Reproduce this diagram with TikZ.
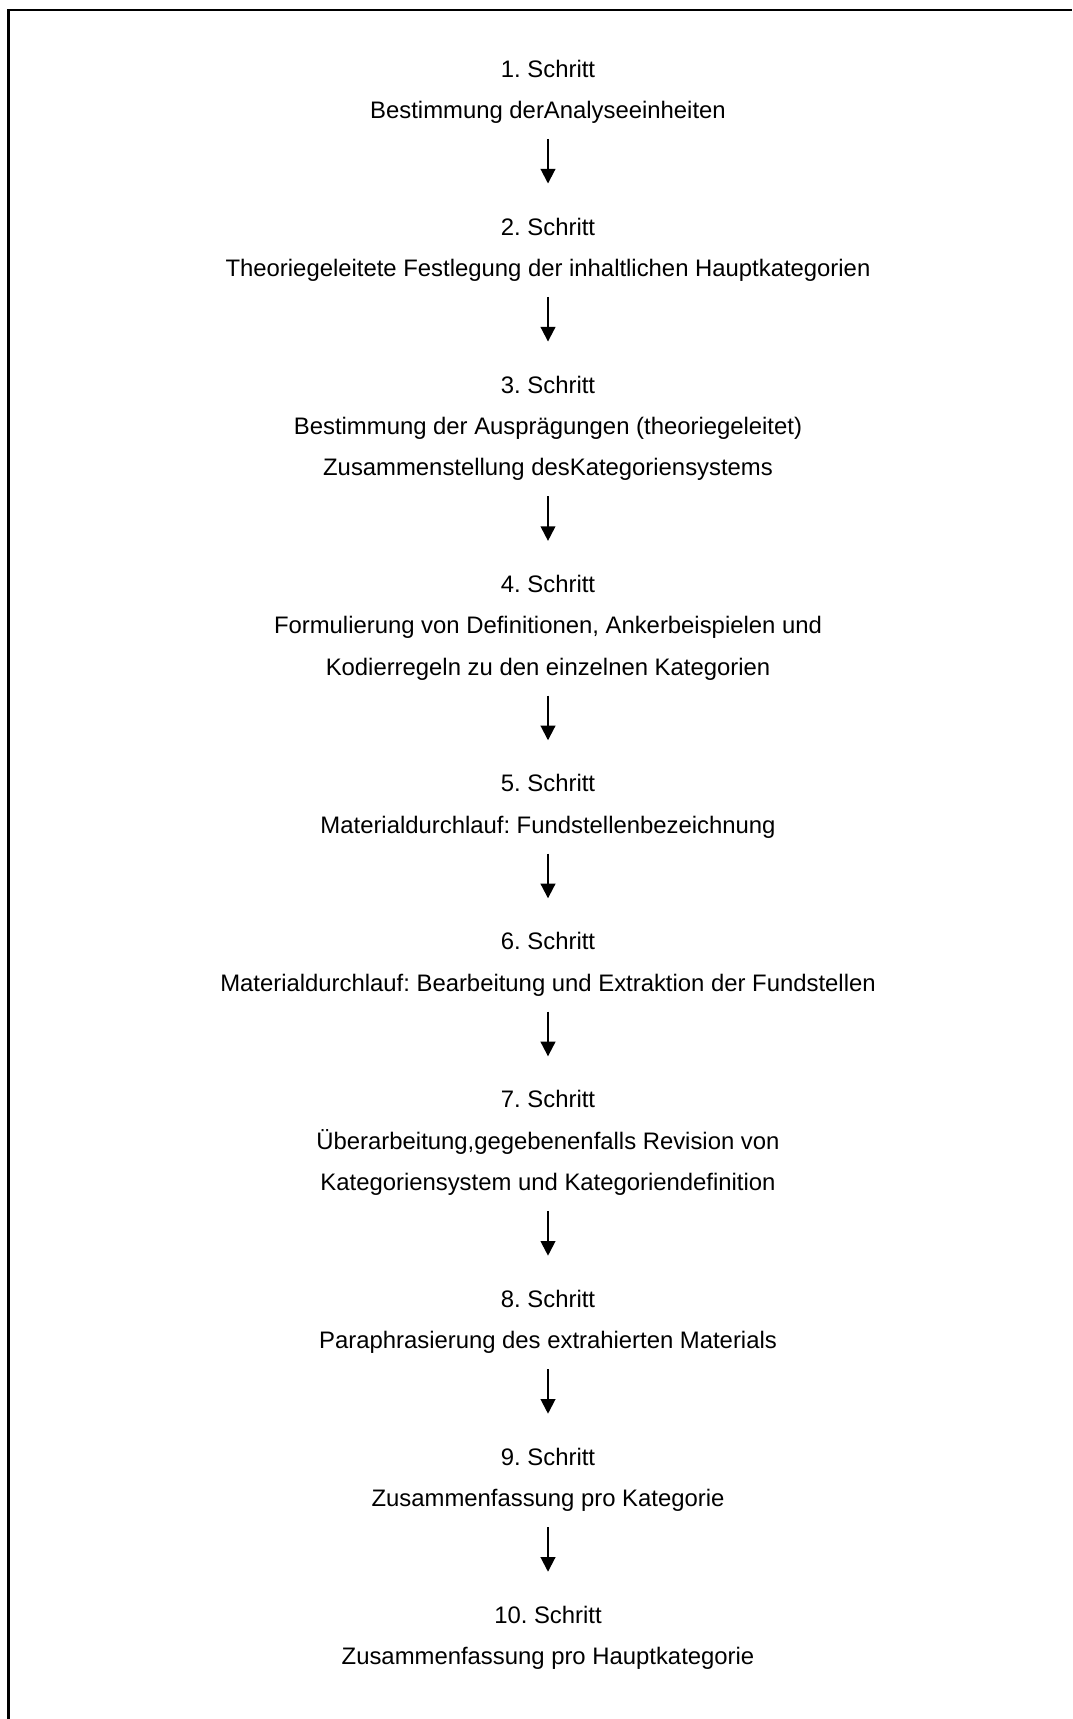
\documentclass[tikz,border=0pt]{standalone}
\usepackage{fontspec}
\setmainfont{Liberation Sans}
\usetikzlibrary{positioning,arrows.meta}
\frenchspacing

\begin{document}
\begin{tikzpicture}[
  x=0.75pt, y=-0.75pt,
  node distance=74.15pt,
  stepbox/.style={align=center, inner sep=0pt, text depth=0pt, font=\fontsize{17.9pt}{31pt}\selectfont},
  arrow/.style={-{Triangle[length=11pt,width=11pt]}, line width=1.5pt, shorten <=15.1pt, shorten >=25.5pt},
  frame/.style={line width=1.6pt}
]
\useasboundingbox (0,0) rectangle (1072,1719);
\draw[frame] (8.5,1719) |- (1072,10);

\node[stepbox, anchor=north] (analyse) at (548,59.5) {1. Schritt\\Bestimmung derAnalyseeinheiten};
\node[stepbox, below=of analyse] (haupt) {2. Schritt\\Theoriegeleitete Festlegung der inhaltlichen Hauptkategorien};
\node[stepbox, below=of haupt] (auspr) {3. Schritt\\Bestimmung der Ausprägungen (theoriegeleitet)\\Zusammenstellung desKategoriensystems};
\node[stepbox, below=of auspr] (defin) {4. Schritt\\Formulierung von Definitionen, Ankerbeispielen und\\Kodierregeln zu den einzelnen Kategorien};
\node[stepbox, below=of defin] (fund) {5. Schritt\\Materialdurchlauf: Fundstellenbezeichnung};
\node[stepbox, below=of fund] (extrakt) {6. Schritt\\Materialdurchlauf: Bearbeitung und Extraktion der Fundstellen};
\node[stepbox, below=of extrakt] (revision) {7. Schritt\\Überarbeitung,gegebenenfalls Revision von\\Kategoriensystem und Kategoriendefinition};
\node[stepbox, below=of revision] (para) {8. Schritt\\Paraphrasierung des extrahierten Materials};
\node[stepbox, below=of para] (kat) {9. Schritt\\Zusammenfassung pro Kategorie};
\node[stepbox, below=of kat] (hauptkat) {10. Schritt\\Zusammenfassung pro Hauptkategorie};

\draw[arrow] (analyse) -- (haupt);
\draw[arrow] (haupt) -- (auspr);
\draw[arrow] (auspr) -- (defin);
\draw[arrow] (defin) -- (fund);
\draw[arrow] (fund) -- (extrakt);
\draw[arrow] (extrakt) -- (revision);
\draw[arrow] (revision) -- (para);
\draw[arrow] (para) -- (kat);
\draw[arrow] (kat) -- (hauptkat);
\end{tikzpicture}
\end{document}
